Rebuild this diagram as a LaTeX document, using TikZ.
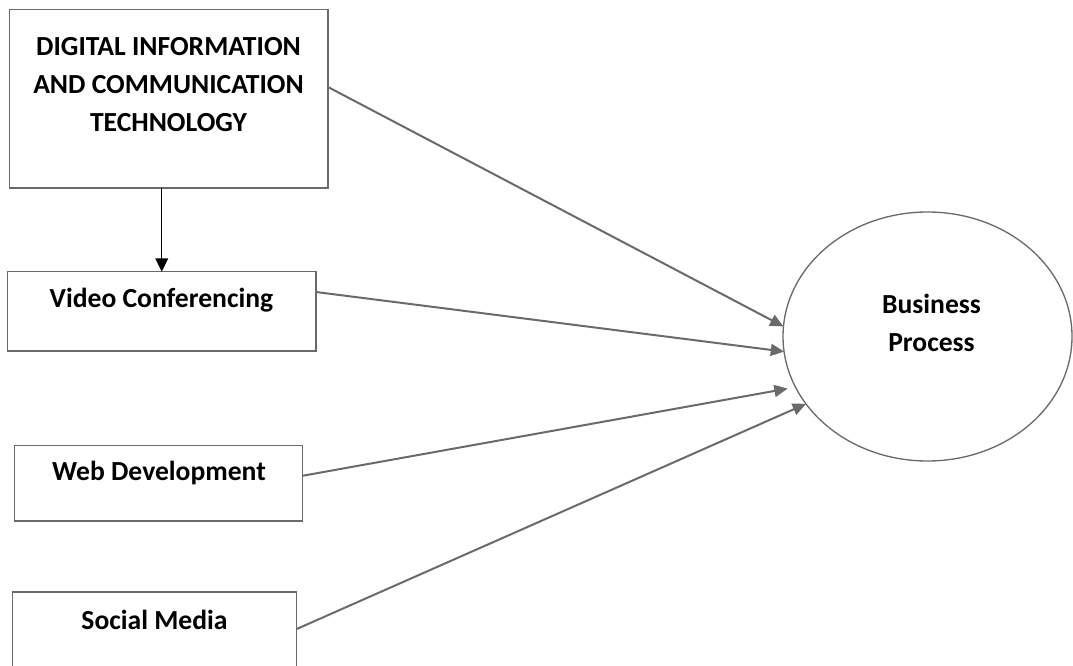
\documentclass[tikz,border=0pt]{standalone}
\usepackage{fontspec}
\setmainfont{Carlito}
\usetikzlibrary{arrows.meta,shapes.geometric,calc}
\definecolor{edgegray}{HTML}{6A6A6A}
\tikzset{
  boxnode/.style={draw=edgegray, line width=1.1pt, rectangle, inner sep=0pt, outer sep=0pt},
  lbl/.style={font=\bfseries\fontsize{20.7}{28.5}\selectfont, align=center, inner sep=0pt},
  grayarrow/.style={draw=edgegray, line width=1.5pt, -{Triangle[length=10pt,width=9pt]}},
  blackarrow/.style={draw=black, line width=1.1pt, -{Triangle[length=10pt,width=9.5pt]}}
}
\begin{document}
\begin{tikzpicture}[x=0.75pt,y=-0.75pt]
\useasboundingbox (0,0) rectangle (1073,666);
\clip (0,0) rectangle (1073,666);
% boxes
\node[boxnode, minimum width=238.875pt, minimum height=133.875pt] (dict) at (168.75,98.75) {};
\node[boxnode, minimum width=231.375pt, minimum height=59.475pt] (video) at (161.75,311.35) {};
\node[boxnode, minimum width=216.15pt, minimum height=56.475pt] (web) at (158.6,483.35) {};
\node[boxnode, minimum width=213pt, minimum height=58.5pt] (social) at (154.7,631) {};
\node[draw=edgegray, line width=1pt, ellipse, inner sep=0pt, outer sep=0pt, minimum width=216.75pt, minimum height=186.75pt] (bp) at (927.5,336.5) {};
% texts
\node[lbl] (tdict) at (168.5,84.5) {DIGITAL INFORMATION\\AND COMMUNICATION\\TECHNOLOGY};
\node[lbl] (tvideo) at (161.5,300) {Video Conferencing};
\node[lbl] (tweb) at (159,473) {Web Development};
\node[lbl] (tsocial) at (154.5,620) {Social Media};
\node[lbl] (tbp) at (931.5,323) {Business\\Process};
% connectors
\draw[blackarrow] (dict.south -| video.north) -- (video.north);
\draw[grayarrow] ([yshift=8.8pt]dict.east) -- (bp.176.6);
\draw[grayarrow] ([yshift=14.5pt]video.east) -- (bp.186.5);
\draw[grayarrow, shorten >=6pt] ([yshift=5.7pt]web.east) -- (bp.201);
\draw[grayarrow] ([yshift=1.5pt]social.east) -- (bp.209.2);
\end{tikzpicture}
\end{document}
